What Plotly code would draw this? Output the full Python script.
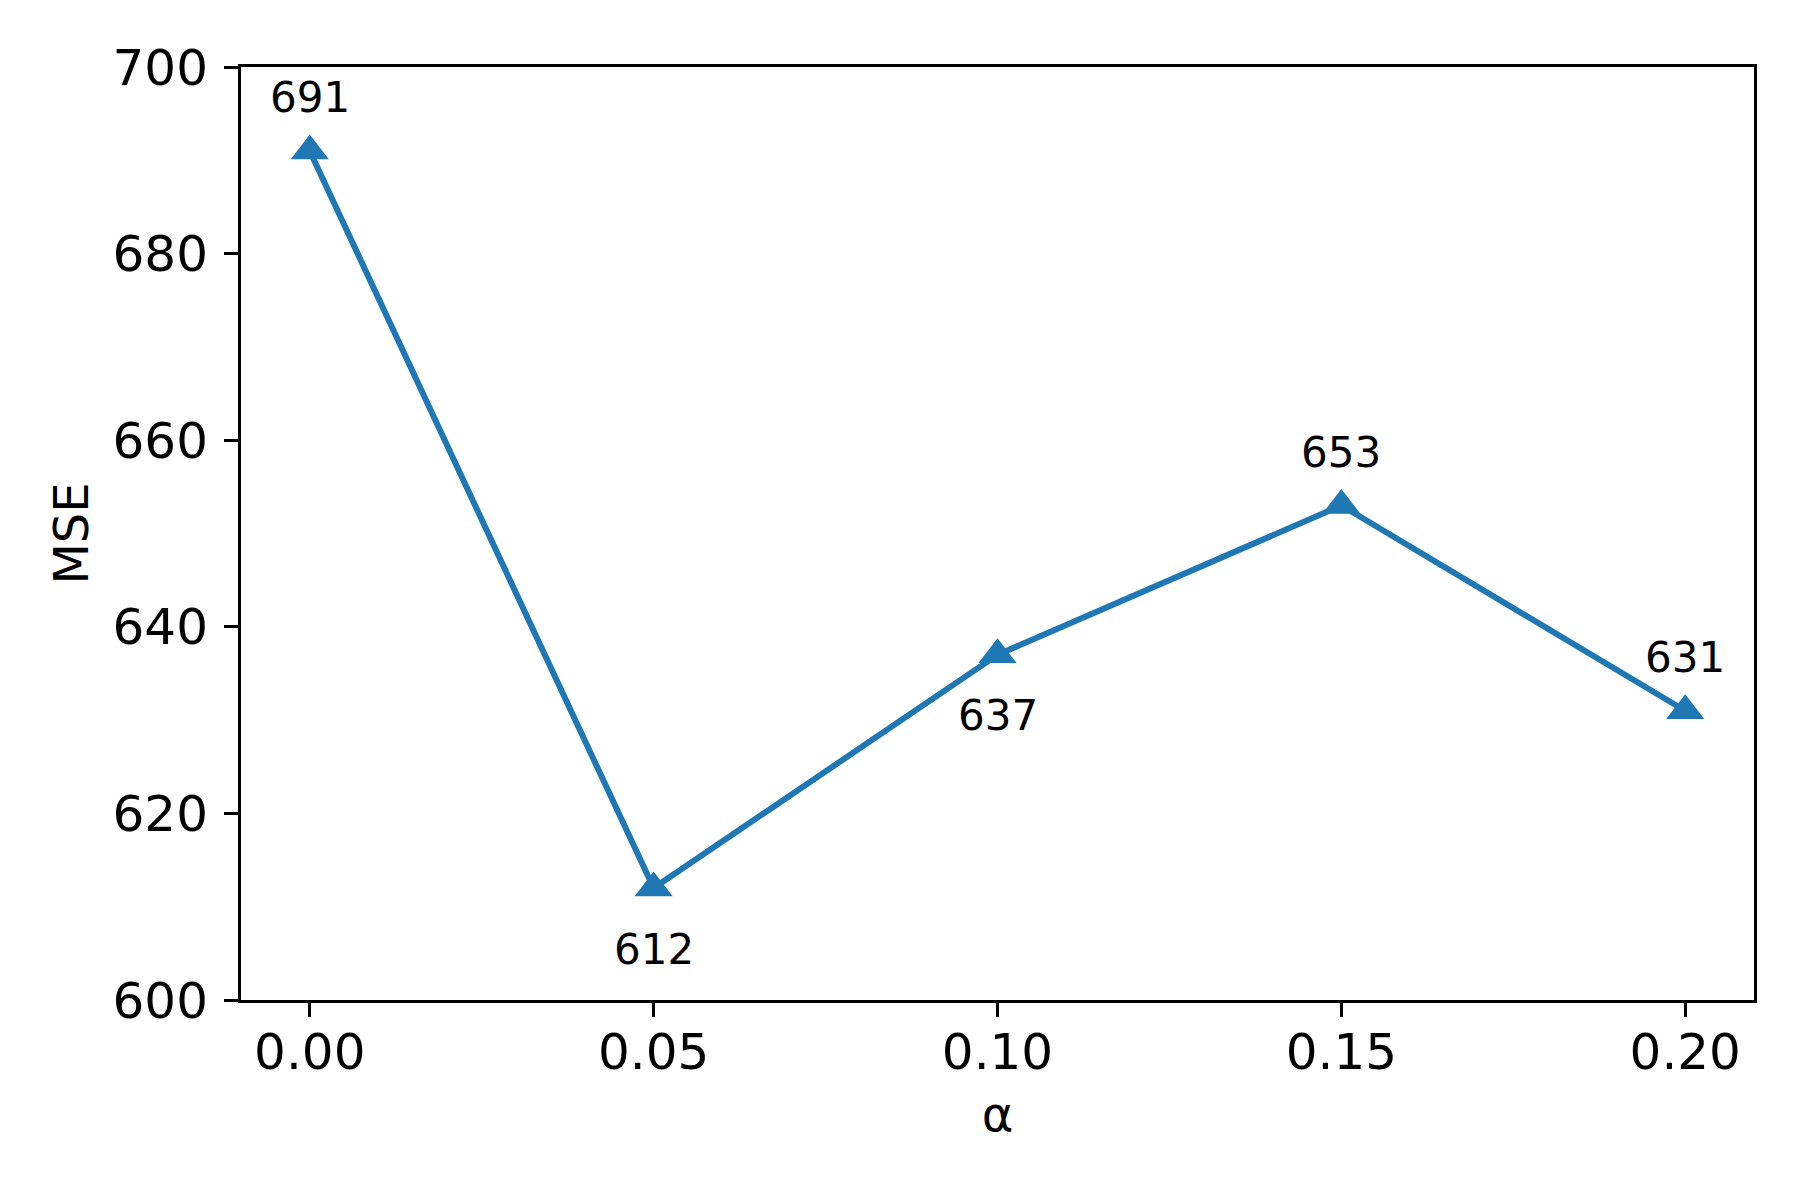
import plotly.graph_objects as go

alpha = [0.00, 0.05, 0.10, 0.15, 0.20]
mse = [691, 612, 637, 653, 631]
label_pos = ["above", "below", "below", "above", "above"]

x_ticks = [0.00, 0.05, 0.10, 0.15, 0.20]
x_tick_text = ["0.00", "0.05", "0.10", "0.15", "0.20"]
y_ticks = [600, 620, 640, 660, 680, 700]

blue = "#1f77b4"
font = "DejaVu Sans"

fig = go.Figure()
fig.add_trace(go.Scatter(
    x=alpha, y=mse, mode="lines+markers",
    line=dict(color=blue, width=6),
    marker=dict(symbol="triangle-up", size=33, color=blue),
    showlegend=False))

# value labels, above or below each point
for a, m, pos in zip(alpha, mse, label_pos):
    fig.add_annotation(
        x=a, y=m, text=str(m), showarrow=False,
        font=dict(family=font, size=42, color="black"),
        yanchor="middle", yshift=53 if pos == "above" else -61)

axis_common = dict(
    showline=True, linecolor="black", linewidth=3, mirror=True,
    ticks="outside", ticklen=14, tickwidth=3, tickcolor="black",
    showgrid=False, zeroline=False,
    tickfont=dict(family=font, size=50, color="black"),
)

fig.update_xaxes(
    range=[-0.01, 0.21], tickvals=x_ticks, ticktext=x_tick_text,
    title=dict(text="α", font=dict(family=font, size=48, color="black"),
               standoff=18),
    ticklabelstandoff=-8,
    **axis_common)
fig.update_yaxes(
    range=[600, 700], tickvals=y_ticks,
    title=dict(text="MSE", font=dict(family=font, size=48, color="black"),
               standoff=9),
    ticklabelstandoff=6,
    **axis_common)

fig.update_layout(
    width=1800, height=1200,
    margin=dict(l=233, r=54, t=59, b=208, autoexpand=False),
    plot_bgcolor="white", paper_bgcolor="white",
    font=dict(family=font, color="black"),
)

fig.write_html("out.html")
